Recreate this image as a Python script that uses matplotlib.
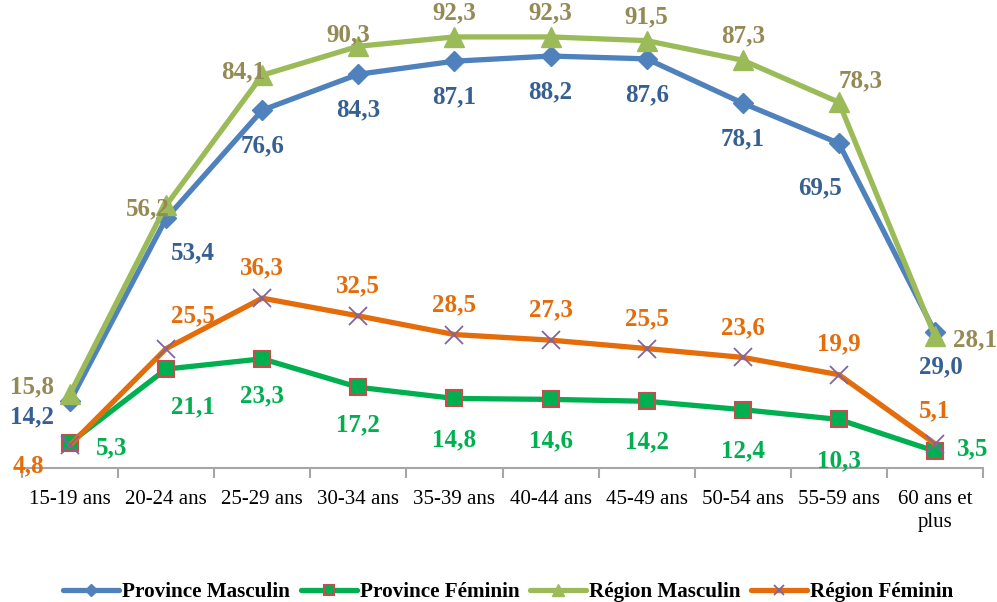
import matplotlib
matplotlib.use("Agg")
import matplotlib.pyplot as plt

categories = ["15-19 ans", "20-24 ans", "25-29 ans", "30-34 ans", "35-39 ans",
              "40-44 ans", "45-49 ans", "50-54 ans", "55-59 ans", "60 ans et\nplus"]
province_masculin = [14.2, 53.4, 76.6, 84.3, 87.1, 88.2, 87.6, 78.1, 69.5, 29.0]
province_feminin = [5.3, 21.1, 23.3, 17.2, 14.8, 14.6, 14.2, 12.4, 10.3, 3.5]
region_masculin = [15.8, 56.2, 84.1, 90.3, 92.3, 92.3, 91.5, 87.3, 78.3, 28.1]
region_feminin = [4.8, 25.5, 36.3, 32.5, 28.5, 27.3, 25.5, 23.6, 19.9, 5.1]

# label offsets in pixels (dx, dy) relative to data points
off_pm = [(-38, -16), (27, -34), (0, -36), (0, -36), (0, -36), (0, -36), (0, -36), (0, -36), (-19, -45), (6, -35)]
off_pf = [(42, -5), (27, -38), (0, -37), (0, -38), (0, -41), (0, -41), (0, -41), (0, -41), (0, -41), (38, 2)]
off_rm = [(-38, 7), (-18, -3), (-19, 3), (-10, 11), (0, 24), (0, 24), (0, 24), (0, 24), (22, 21), (40, -3)]
off_rf = [(-42, -21), (27, 33), (0, 30), (0, 30), (0, 30), (0, 30), (0, 30), (0, 30), (0, 31), (0, 33)]

plt.rcParams['font.family'] = ['Liberation Serif', 'DejaVu Serif']

fig = plt.figure(figsize=(9.97, 6.02), dpi=100)
ax = fig.add_axes([22/997, 1 - 467.5/602, 961/997, 466.5/602])

x = [i + 0.5 for i in range(len(categories))]

series = [
    ("Province Masculin", province_masculin, "#4f81bd", dict(marker="D", markersize=10, markerfacecolor="#4f81bd", markeredgecolor="#4f81bd"), "#376092", off_pm),
    ("Province Féminin", province_feminin, "#00b050", dict(marker="s", markersize=12, markerfacecolor="#00b050", markeredgecolor="#c0504d", markeredgewidth=1.5), "#00b050", off_pf),
    ("Région Masculin", region_masculin, "#9bbb59", dict(marker="^", markersize=14, markerfacecolor="#9bbb59", markeredgecolor="#9bbb59"), "#948a54", off_rm),
    ("Région Féminin", region_feminin, "#e46c0a", dict(marker="x", markersize=13, markeredgecolor="#8064a2", markeredgewidth=1.3), "#e46c0a", off_rf),
]

for z, (name, vals, col, mk, lcol, offs) in enumerate(series):
    ax.plot(x, vals, color=col, lw=3.8, label=name, zorder=3 + z, solid_capstyle="round", **mk)

for name, vals, col, mk, lcol, offs in series:
    for xi, v, (dx, dy) in zip(x, vals, offs):
        ax.annotate(f"{v:.1f}".replace(".", ","), (xi, v), xytext=(dx, dy),
                    textcoords="offset pixels", ha="center", va="center",
                    fontsize=18, fontweight="bold", color=lcol, zorder=20)

ax.set_xlim(0, 10)
ax.set_ylim(0, 100)
ax.set_yticks([])
for s in ["top", "right", "left"]:
    ax.spines[s].set_visible(False)
ax.spines["bottom"].set_color("#a6a6a6")
ax.spines["bottom"].set_linewidth(1.5)
ax.set_xticks(range(11))
ax.set_xticklabels([])
ax.tick_params(axis="x", which="major", length=7, width=1.5, color="#a6a6a6", direction="out")
ax.set_xticks(x, minor=True)
ax.set_xticklabels(categories, minor=True, fontsize=15, linespacing=1.3)
ax.tick_params(axis="x", which="minor", length=0, pad=16)
ax.patch.set_visible(False)

fig.legend(loc="lower center", bbox_to_anchor=(0.51, -0.032), ncol=4, frameon=False,
           prop=dict(size=15.2, weight="bold"), handlelength=2.65, handletextpad=0.15,
           columnspacing=0.5, markerscale=0.6)

fig.savefig("out.png", dpi=100)
